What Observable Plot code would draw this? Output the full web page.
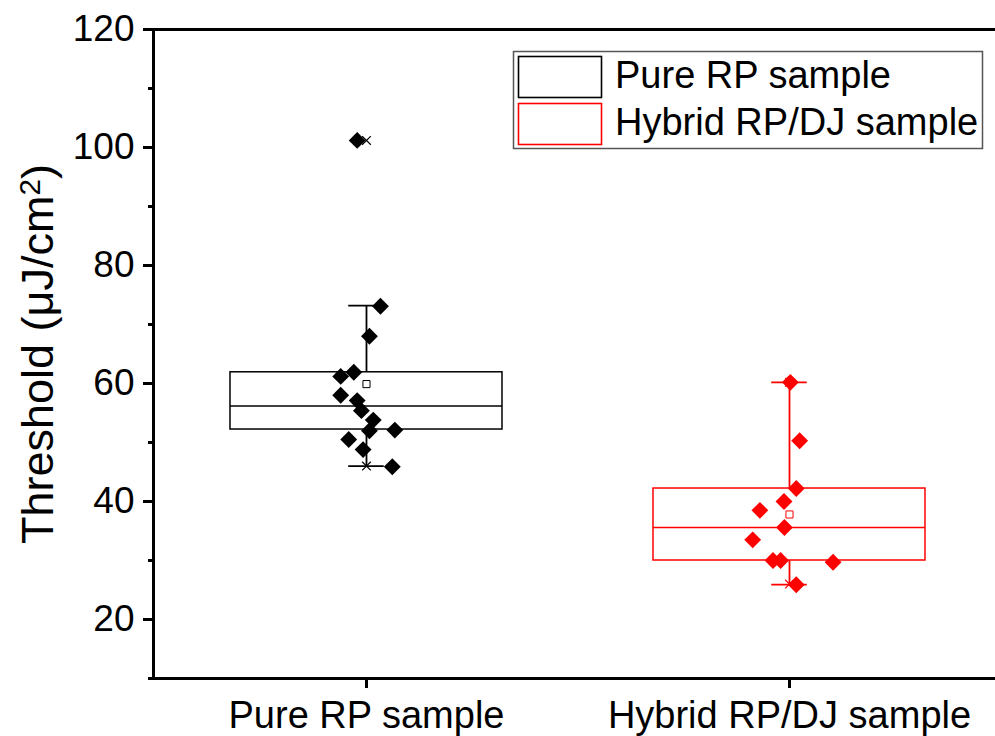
<!DOCTYPE html>
<html>
<head>
<meta charset="utf-8">
<script src="https://cdn.jsdelivr.net/npm/d3@7"></script>
<script src="https://cdn.jsdelivr.net/npm/@observablehq/plot@0.6"></script>
<style>
  body { margin: 0; background: #fff; }
  #wrap { position: relative; width: 995px; height: 736px; font-family: "Liberation Sans", Arial, sans-serif; }
  #wrap > svg { position: absolute; left: 0; top: 0; }
</style>
</head>
<body>
<div id="wrap"></div>
<script>
// ---- data ----
const groups = ["Pure RP sample", "Hybrid RP/DJ sample"];
const colors = ["#000000", "#ff0000"];
const yTicks = [20, 40, 60, 80, 100, 120];
const yMinorTicks = [10, 30, 50, 70, 90, 110];
const yTitleMain = "Threshold (μJ/cm";
const yTitleSup = "2";
const yTitleEnd = ")";

const pureValues  = [101.2, 73.1, 68.0, 61.9, 61.2, 58.0, 57.1, 55.4, 53.8, 52.0, 52.1, 50.5, 48.8, 45.9];
const pureJitter  = [-0.022, 0.033, 0.007, -0.030, -0.061, -0.061, -0.022, -0.012, 0.016, 0.007, 0.067, -0.042, -0.008, 0.061];
const hybridValues = [60.2, 50.3, 42.2, 40.0, 38.5, 35.6, 33.5, 30.0, 30.0, 29.7, 25.9];
const hybridJitter = [0.002, 0.024, 0.016, -0.013, -0.070, -0.012, -0.087, -0.039, -0.021, 0.103, 0.016];

const q1 = [52.2, 30.0];
const median = [56.2, 35.6];
const q3 = [61.9, 42.2];
const whiskerLow = [46.0, 25.9];
const whiskerHigh = [73.2, 60.2];
const means = [59.9, 37.8];
const pctMarks = [[101.2, 46.0], [60.2, 26.0]];

// ---- build tables ----
const pos = [1, 2];
const halfBox = 0.3215, halfCap = 0.042;
const xDomain = [0.4965, 2.487];
const values = [pureValues, hybridValues];
const jitters = [pureJitter, hybridJitter];
const points = [];
values.forEach((vals, g) => vals.forEach((v, i) => points.push({g, x: pos[g] + jitters[g][i], y: v, c: colors[g]})));
const stats = groups.map((name, g) => ({g, name, x: pos[g], c: colors[g], q1: q1[g], med: median[g], q3: q3[g], lo: whiskerLow[g], hi: whiskerHigh[g], mean: means[g]}));
const pcts = [];
pctMarks.forEach((arr, g) => arr.forEach(v => pcts.push({x: pos[g], y: v, c: colors[g]})));

const chart = Plot.plot({
  width: 995, height: 736,
  marginLeft: 153, marginRight: 0, marginTop: 29, marginBottom: 58,
  x: {type: "linear", domain: xDomain, label: null},
  y: {domain: [10, 120], label: null},
  color: {type: "identity"},
  style: {fontFamily: '"Liberation Sans", Arial, sans-serif', background: "white", color: "black"},
  marks: [
    // boxes
    Plot.rect(stats, {x1: d => d.x - halfBox, x2: d => d.x + halfBox, y1: "q1", y2: "q3", fill: "none", stroke: "c", strokeWidth: 1.5}),
    Plot.ruleY(stats, {y: "med", x1: d => d.x - halfBox, x2: d => d.x + halfBox, stroke: "c", strokeWidth: 1.5}),
    // whiskers
    Plot.ruleX(stats, {x: "x", y1: "q3", y2: "hi", stroke: "c", strokeWidth: 1.8}),
    Plot.ruleX(stats, {x: "x", y1: "lo", y2: "q1", stroke: "c", strokeWidth: 1.8}),
    Plot.ruleY(stats, {y: "hi", x1: d => d.x - halfCap, x2: d => d.x + halfCap, stroke: "c", strokeWidth: 1.8}),
    Plot.ruleY(stats, {y: "lo", x1: d => d.x - halfCap, x2: d => d.x + halfCap, stroke: "c", strokeWidth: 1.8}),
    // percentile markers
    Plot.dot(pcts, {x: "x", y: "y", symbol: "times", r: 4, stroke: "c", strokeWidth: 1.2}),
    // data points
    Plot.dot(points, {x: "x", y: "y", symbol: "diamond2", r: 7.6, fill: "c", stroke: "none"}),
    // means
    Plot.dot(stats, {x: "x", y: "mean", symbol: "square", r: 4, fill: "white", stroke: "c", strokeWidth: 1}),
    // frame lines
    Plot.ruleY([10], {strokeWidth: 3}),
    Plot.ruleY([120], {strokeWidth: 3}),
    Plot.ruleX([xDomain[0]], {y1: 10, y2: 120, strokeWidth: 3}),
    // axes
    Plot.axisY(yTicks, {tickSize: 10, tickPadding: 9, fontSize: 37, strokeWidth: 3, label: null}),
    Plot.axisY(yMinorTicks, {tickSize: 5, tickFormat: () => "", strokeWidth: 3, label: null}),
    Plot.axisX(pos, {tickSize: 10, tickPadding: 13, fontSize: 38, strokeWidth: 3, label: null, tickFormat: d => groups[d - 1]}),
    // y title
    Plot.text([yTitleMain + yTitleSup + yTitleEnd], {text: d => d, frameAnchor: "left", rotate: -90, dx: -115, fontSize: 45, lineAnchor: "middle", textAnchor: "middle", className: "ytitle"})
  ]
});
document.getElementById("wrap").appendChild(chart);

// turn the "2" of the y title into a real superscript
d3.select(chart).selectAll("g.ytitle text").each(function() {
  const t = d3.select(this);
  t.text(null);
  t.append("tspan").text(yTitleMain);
  t.append("tspan").attr("dy", "-0.42em").attr("font-size", "0.66em").text(yTitleSup);
  t.append("tspan").attr("dy", "0.28em").text(yTitleEnd);
});

// ---- legend overlay ----
const leg = d3.select("#wrap").append("svg")
  .attr("width", 995).attr("height", 736)
  .style("pointer-events", "none");
leg.append("rect").attr("x", 513.5).attr("y", 51.5).attr("width", 469).attr("height", 97)
  .attr("fill", "white").attr("stroke", "#555").attr("stroke-width", 1.5);
const rowsY = [56.5, 103.5];
groups.forEach((name, i) => {
  leg.append("rect").attr("x", 518.5).attr("y", rowsY[i]).attr("width", 83).attr("height", 41)
    .attr("fill", "white").attr("stroke", colors[i]).attr("stroke-width", 1.6);
  leg.append("text").attr("x", 615).attr("y", rowsY[i] + 31)
    .attr("font-family", '"Liberation Sans", Arial, sans-serif').attr("font-size", 38)
    .attr("fill", "black").text(name);
});
</script>
</body>
</html>
